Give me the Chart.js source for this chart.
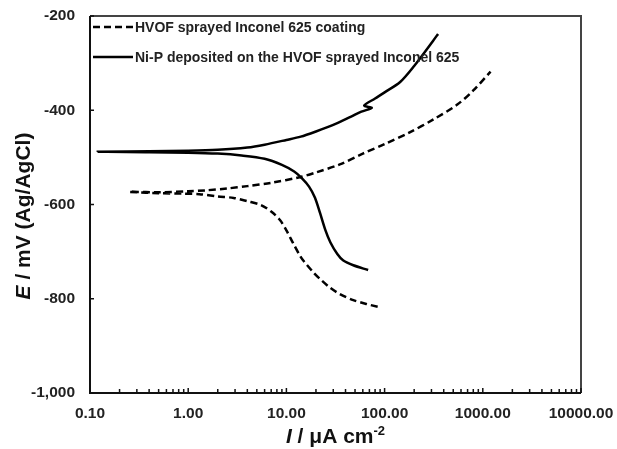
<!DOCTYPE html>
<html>
<head>
<meta charset="utf-8">
<script src="https://cdn.jsdelivr.net/npm/chart.js@4.4.1/dist/chart.umd.min.js"></script>
<style>
  body { margin: 0; background: #fff; }
  #wrap { width: 617px; height: 449px; }
</style>
</head>
<body>
<div id="wrap"><canvas id="myChart" width="617" height="449"></canvas></div>
<script>
// HVOF sprayed Inconel 625 coating: cathodic branch (from high current back to Ecorr), then anodic branch
const hvofCurrent = [85, 65, 48, 35, 28, 22, 19, 15, 13.7, 11.7, 10, 8.6, 7, 5.5, 4, 2.9, 2.0, 1.3, 0.9, 0.5, 0.25,
                     0.5, 1.0, 1.5, 2.5, 4, 7, 13.7, 20, 35, 60, 100, 180, 311, 550, 800, 1200];
const hvofPotential = [-817, -811, -803, -790, -777, -758, -745, -720, -708, -682, -655, -633, -615, -601, -593, -586, -583, -578, -577, -576, -573,
                       -574, -572, -570, -566, -561, -554, -542, -532, -515, -492, -472, -447, -420, -388, -358, -318];

// Ni-P deposited on the HVOF sprayed Inconel 625
const nipCurrent = [68, 48, 38, 33, 28, 25, 22, 19.5, 17, 14.5, 12, 9, 6, 3.5, 2.0, 1.0, 0.4, 0.12,
                    0.4, 1.0, 2, 4, 6, 10, 14, 20, 30, 45, 58, 74, 62, 80, 100, 144, 200, 311, 350];
const nipPotential = [-739, -729, -719, -705, -680, -655, -618, -585, -562, -545, -530, -516, -503, -496, -492, -490, -489, -488,
                      -487, -486, -484, -479, -473, -463, -456, -445, -431, -414, -403, -395, -390, -375, -362, -340, -306, -253, -238];

const seriesLabels = ['HVOF sprayed Inconel 625 coating', 'Ni-P deposited on the HVOF sprayed Inconel 625'];
const xTicks = [0.1, 1, 10, 100, 1000, 10000];
const yTicks = [-1000, -800, -600, -400, -200];

const FONT = '"Liberation Sans", Arial, sans-serif';

function toPoints(xs, ys) {
    let pts = [];
    for (let i = 0; i < xs.length; i++) {
        pts.push({x: xs[i], y: ys[i]});
    }
    return pts;
}

// frame, inward ticks, legend and axis titles
const decorPlugin = {
    id: 'decor',
    afterDraw(chart) {
        const ctx = chart.ctx;
        const a = chart.chartArea;
        const xs = chart.scales.x;
        const ys = chart.scales.y;
        ctx.save();

        // box round the plot
        ctx.lineWidth = 2;
        ctx.strokeStyle = '#444';
        ctx.beginPath();
        ctx.moveTo(a.left, a.top);
        ctx.lineTo(a.right, a.top);
        ctx.lineTo(a.right, a.bottom);
        ctx.stroke();
        ctx.strokeStyle = '#111';
        ctx.beginPath();
        ctx.moveTo(a.left, a.top);
        ctx.lineTo(a.left, a.bottom);
        ctx.lineTo(a.right, a.bottom);
        ctx.stroke();

        // x ticks (major + minor), pointing inward
        ctx.lineWidth = 1.5;
        ctx.strokeStyle = '#111';
        ctx.beginPath();
        for (let d = 0; d < xTicks.length; d++) {
            const base = xTicks[d];
            const px = xs.getPixelForValue(base);
            ctx.moveTo(px, a.bottom);
            ctx.lineTo(px, a.bottom - 5);
            if (d < xTicks.length - 1) {
                for (let m = 2; m <= 9; m++) {
                    const mx = xs.getPixelForValue(base * m);
                    ctx.moveTo(mx, a.bottom);
                    ctx.lineTo(mx, a.bottom - 4);
                }
            }
        }
        for (let i = 0; i < yTicks.length; i++) {
            const py = ys.getPixelForValue(yTicks[i]);
            ctx.moveTo(a.left, py);
            ctx.lineTo(a.left + 4, py);
        }
        ctx.stroke();

        // legend
        chart.data.datasets.forEach(function(ds, i) {
            const ly = a.top + 11 + i * 30;
            ctx.lineWidth = 2.5;
            ctx.strokeStyle = '#000';
            ctx.setLineDash(ds.borderDash || []);
            ctx.beginPath();
            ctx.moveTo(a.left + 3, ly);
            ctx.lineTo(a.left + 43, ly);
            ctx.stroke();
            ctx.setLineDash([]);
            ctx.fillStyle = '#222';
            ctx.font = 'bold 14px ' + FONT;
            ctx.textBaseline = 'middle';
            ctx.textAlign = 'left';
            ctx.fillText(ds.label, a.left + 45, ly + 1);
        });

        // x title: I / μA cm-2
        ctx.fillStyle = '#111';
        ctx.textBaseline = 'alphabetic';
        ctx.textAlign = 'left';
        const f1 = 'italic bold 21px ' + FONT;
        const f2 = 'bold 21px ' + FONT;
        const f3 = 'bold 13px ' + FONT;
        ctx.font = f1; const w1 = ctx.measureText('I').width;
        ctx.font = f2; const w2 = ctx.measureText(' / μA cm').width;
        ctx.font = f3; const w3 = ctx.measureText('-2').width;
        let tx = (a.left + a.right) / 2 - (w1 + w2 + w3) / 2;
        const tyb = 443;
        ctx.font = f1; ctx.fillText('I', tx, tyb);
        ctx.font = f2; ctx.fillText(' / μA cm', tx + w1, tyb);
        ctx.font = f3; ctx.fillText('-2', tx + w1 + w2, tyb - 8);

        // y title: E / mV (Ag/AgCl)
        ctx.translate(30, 216);
        ctx.rotate(-Math.PI / 2);
        ctx.font = f1; const v1 = ctx.measureText('E').width;
        ctx.font = f2; const v2 = ctx.measureText(' / mV (Ag/AgCl)').width;
        const sx = -(v1 + v2) / 2;
        ctx.font = f1; ctx.fillText('E', sx, 0);
        ctx.font = f2; ctx.fillText(' / mV (Ag/AgCl)', sx + v1, 0);

        ctx.restore();
    }
};

let ctx = document.getElementById('myChart').getContext('2d');
let chart = new Chart(ctx, {
    type: 'scatter',
    data: {
        datasets: [{
            label: seriesLabels[0],
            data: toPoints(hvofCurrent, hvofPotential),
            showLine: true,
            borderColor: '#000',
            borderWidth: 2.5,
            borderDash: [7, 4],
            pointRadius: 0,
            tension: 0.3
        }, {
            label: seriesLabels[1],
            data: toPoints(nipCurrent, nipPotential),
            showLine: true,
            borderColor: '#000',
            borderWidth: 2.5,
            pointRadius: 0,
            tension: 0.3
        }]
    },
    options: {
        responsive: false,
        animation: false,
        layout: { padding: { top: 16, right: 36, left: 0, bottom: 0 } },
        plugins: {
            legend: { display: false },
            tooltip: { enabled: false }
        },
        scales: {
            x: {
                type: 'logarithmic',
                min: 0.1,
                max: 10000,
                afterBuildTicks: function(scale) {
                    scale.ticks = xTicks.map(function(v) { return {value: v}; });
                },
                afterFit: function(scale) {
                    scale.height = 56;
                    scale.paddingLeft = 0;
                    scale.paddingRight = 0;
                },
                grid: { display: false, drawTicks: false },
                border: { display: false },
                ticks: {
                    autoSkip: false,
                    maxRotation: 0,
                    padding: 11,
                    color: '#222',
                    font: { family: FONT, size: 15.5, weight: 'bold' },
                    callback: function(v) { return Number(v).toFixed(2); }
                }
            },
            y: {
                min: -1000,
                max: -200,
                afterBuildTicks: function(scale) {
                    scale.ticks = yTicks.map(function(v) { return {value: v}; });
                },
                afterFit: function(scale) {
                    scale.width = 90;
                    scale.paddingTop = 0;
                    scale.paddingBottom = 0;
                },
                grid: { display: false, drawTicks: false },
                border: { display: false },
                ticks: {
                    padding: 15,
                    color: '#222',
                    font: { family: FONT, size: 15.5, weight: 'bold' }
                }
            }
        }
    },
    plugins: [decorPlugin]
});
</script>
</body>
</html>
